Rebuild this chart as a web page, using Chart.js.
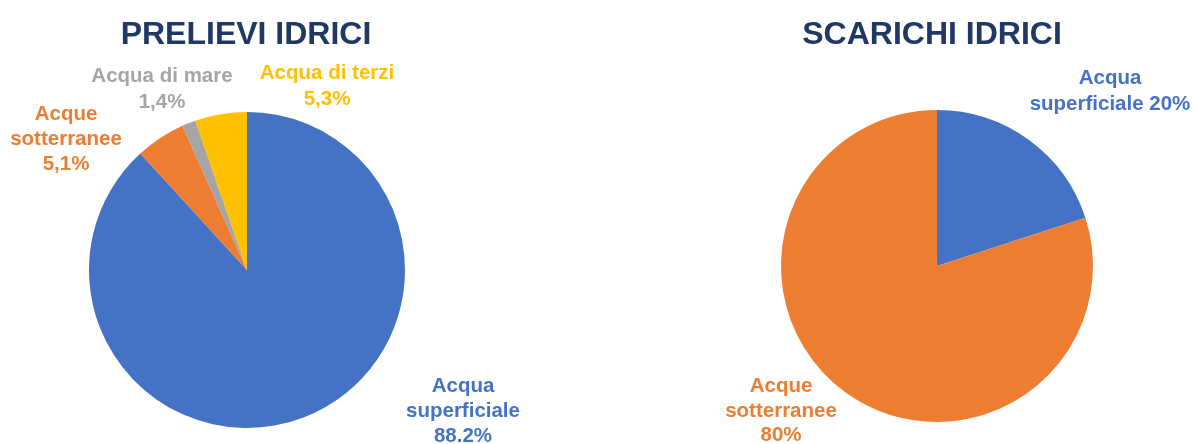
<!DOCTYPE html>
<html>
<head>
<meta charset="utf-8">
<script src="https://cdn.jsdelivr.net/npm/chart.js@4.4.0/dist/chart.umd.min.js"></script>
<style>
  html, body { margin: 0; padding: 0; background: #ffffff; }
  #wrap { position: relative; width: 1196px; height: 444px; overflow: hidden; }
  #wrap canvas { position: absolute; left: 0; top: 0; }
</style>
</head>
<body>
<div id="wrap">
  <canvas id="c1" width="1196" height="444"></canvas>
  <canvas id="c2" width="1196" height="444"></canvas>
</div>
<script>
// ---- data ----
const preleviTitle = "PRELIEVI IDRICI";
const preleviCategories = ["Acqua superficiale", "Acque sotterranee", "Acqua di mare", "Acqua di terzi"];
const preleviValues = [88.2, 5.1, 1.4, 5.3];
const preleviLabels = [
  ["Acqua", "superficiale", "88.2%"],
  ["Acque", "sotterranee", "5,1%"],
  ["Acqua di mare", "1,4%"],
  ["Acqua di terzi", "5,3%"]
];

const scarichiTitle = "SCARICHI IDRICI";
const scarichiCategories = ["Acqua superficiale", "Acque sotterranee"];
const scarichiValues = [20, 80];
const scarichiLabels = [
  ["Acqua", "superficiale 20%"],
  ["Acque", "sotterranee", "80%"]
];

// ---- styles / layout ----
const COLORS = ["#4472C4", "#ED7D31", "#A5A5A5", "#FFC000"];
const TITLE_COLOR = "#203864";
const FONT = "'Liberation Sans', Arial, sans-serif";

// label anchor: x center, first baseline, line step (page px)
const preleviLabelPos = [
  { x: 463, y: 392, step: 25 },
  { x: 66,  y: 120, step: 25 },
  { x: 162, y: 82,  step: 26 },
  { x: 327, y: 79,  step: 26 }
];
const scarichiLabelPos = [
  { x: 1110, y: 84, step: 26 },
  { x: 781,  y: 392, step: 24.5 }
];

const textPlugin = {
  id: 'textPlugin',
  afterDraw(chart, args, opts) {
    const ctx = chart.ctx;
    ctx.save();
    ctx.textAlign = 'center';
    ctx.textBaseline = 'alphabetic';
    ctx.fillStyle = TITLE_COLOR;
    ctx.font = "bold 32px " + FONT;
    ctx.fillText(opts.title, opts.titleX, opts.titleY);
    ctx.font = "bold 20.5px " + FONT;
    opts.labels.forEach((lines, i) => {
      const p = opts.pos[i];
      ctx.fillStyle = COLORS[i];
      lines.forEach((ln, k) => ctx.fillText(ln, p.x, p.y + k * p.step));
    });
    ctx.restore();
  }
};

function makePie(id, cats, vals, padding, textOpts) {
  return new Chart(document.getElementById(id), {
    type: 'pie',
    data: {
      labels: cats,
      datasets: [{
        data: vals,
        backgroundColor: COLORS.slice(0, vals.length),
        borderWidth: 0
      }]
    },
    options: {
      responsive: false,
      animation: false,
      layout: { padding: padding },
      plugins: {
        legend: { display: false },
        tooltip: { enabled: false },
        title: { display: false },
        textPlugin: textOpts
      }
    },
    plugins: [textPlugin]
  });
}

makePie('c1', preleviCategories, preleviValues,
  { left: 89, right: 1196 - 405, top: 112, bottom: 16 },
  { title: preleviTitle, titleX: 246, titleY: 44, labels: preleviLabels, pos: preleviLabelPos });

makePie('c2', scarichiCategories, scarichiValues,
  { left: 781, right: 1196 - 1093, top: 110, bottom: 22 },
  { title: scarichiTitle, titleX: 932, titleY: 44, labels: scarichiLabels, pos: scarichiLabelPos });
</script>
</body>
</html>
